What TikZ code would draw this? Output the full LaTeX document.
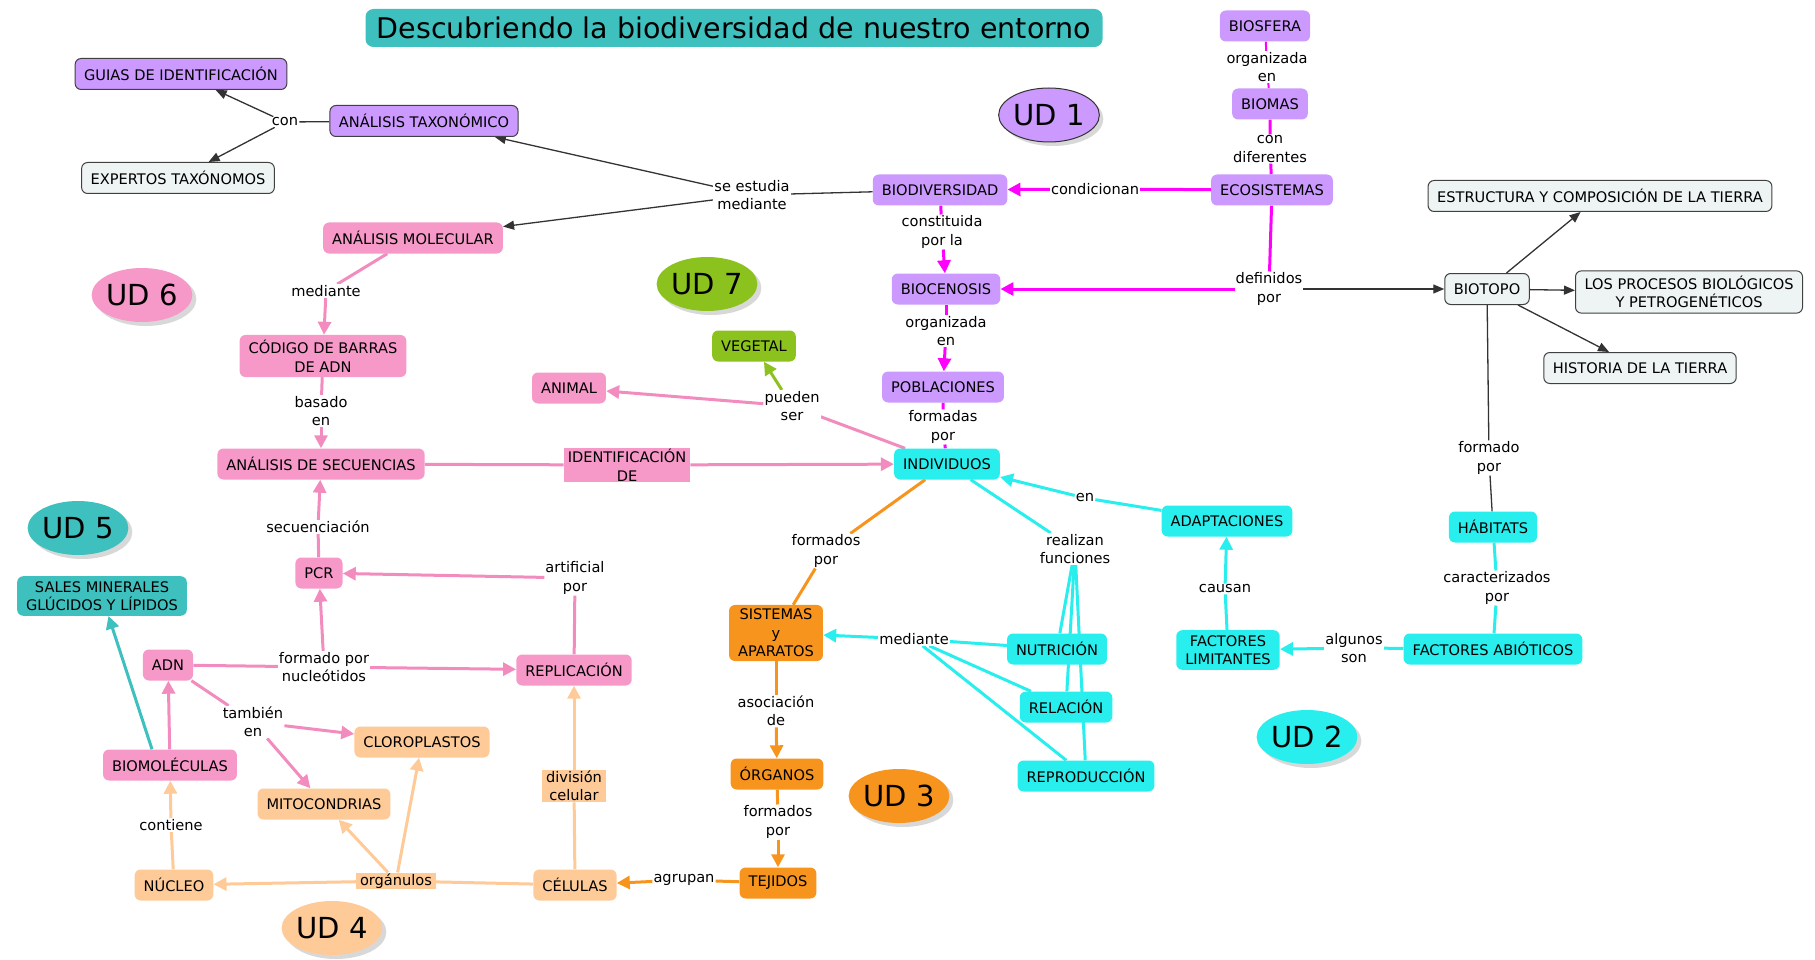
\documentclass[tikz,border=0pt]{standalone}
\usepackage{fontspec}
\setmainfont{DejaVu Sans}
\usetikzlibrary{arrows.meta,shapes.geometric,shadows,backgrounds}
\definecolor{lila}{RGB}{204,153,255}
\definecolor{rosa}{RGB}{246,152,200}
\definecolor{rosal}{RGB}{242,140,190}
\definecolor{cian}{RGB}{40,238,238}
\definecolor{naranja}{RGB}{247,148,30}
\definecolor{melo}{RGB}{253,202,152}
\definecolor{turq}{RGB}{62,192,190}
\definecolor{verde}{RGB}{140,194,30}
\definecolor{gris}{RGB}{238,243,243}
\definecolor{magen}{RGB}{255,0,255}
\newcommand{\ndfont}{\fontsize{14.6}{18.5}\selectfont}
\newcommand{\udfont}{\fontsize{29}{34}\selectfont}
\newcommand{\ttlfont}{\fontsize{28.5}{32}\selectfont}

\begin{document}
\begin{tikzpicture}[x=1pt,y=-1pt,
  every node/.style={text=black},
  cpt/.style={rounded corners=6pt,minimum height=31pt,inner xsep=9pt,inner ysep=5pt,align=center,font=\ndfont},
  brd/.style={draw=black!75,line width=1pt},
  lnk/.style={fill=white,inner sep=1pt,align=center,font=\ndfont},
  lnkf/.style={lnk,fill=#1,inner xsep=4pt},
  ud/.style={ellipse,minimum width=99pt,minimum height=54pt,inner sep=0pt,font=\udfont,
    drop shadow={shadow xshift=4pt,shadow yshift=-4pt,fill=black!30}},
  ln/.style={line width=1.3pt,draw=black!80},
  ar/.style={ln,-{Triangle[length=11pt,width=9pt]}},
  cl/.style={line width=3pt,draw=#1},
  ca/.style={cl=#1,-{Triangle[length=13pt,width=13pt]}}]
\useasboundingbox (0,0) rectangle (1815,960);
% title
\node[fill=turq,rounded corners=8pt,minimum width=737pt,minimum height=38pt,font=\ttlfont] (ttl) at (734,28) {Descubriendo la biodiversidad de nuestro entorno};
% units
\node[ud,fill=lila,draw=black!80,line width=1pt] (ud1) at (1049,115) {UD 1};
\node[ud,fill=cian] (ud2) at (1307,737) {UD 2};
\node[ud,fill=naranja] (ud3) at (899,796) {UD 3};
\node[ud,fill=melo] (ud4) at (332,928) {UD 4};
\node[ud,fill=turq] (ud5) at (78,528) {UD 5};
\node[ud,fill=rosa] (ud6) at (142,295) {UD 6};
\node[ud,fill=verde] (ud7) at (707,284) {UD 7};
% ecosystems
\node[cpt,fill=lila] (biosf) at (1265,26) {BIOSFERA};
\node[lnk] (lorg1) at (1267,67) {organizada\\en};
\node[cpt,fill=lila] (biomas) at (1270,104) {BIOMAS};
\node[lnk] (ldif) at (1270,149) {con\\diferentes};
\node[cpt,fill=lila] (ecosis) at (1272,190) {ECOSISTEMAS};
\node[lnk] (lcond) at (1095,189) {condicionan};
\node[cpt,fill=lila] (biodiv) at (940,190) {BIODIVERSIDAD};
\node[lnk] (lconst) at (942,232) {constituida\\por la};
\node[lnk] (ldef) at (1269,289) {definidos\\por};
\node[cpt,fill=lila] (bioce) at (946,289) {BIOCENOSIS};
\node[lnk] (lorg2) at (946,331) {organizada\\en};
\node[cpt,fill=lila] (pobla) at (943,387) {POBLACIONES};
\node[lnk] (lformd) at (943,427) {formadas\\por};
% taxonomy
\node[cpt,fill=lila,brd] (guias) at (181,74) {GUIAS DE IDENTIFICACIÓN};
\node[cpt,fill=lila,brd] (antax) at (424,121) {ANÁLISIS TAXONÓMICO};
\node[cpt,fill=gris,brd] (expert) at (178,178) {EXPERTOS TAXÓNOMOS};
\node[lnk] (lcon) at (285,122) {con};
\node[lnk] (lestud) at (752,195) {se estudia\\mediante};
\node[cpt,fill=rosa] (anmol) at (413,238) {ANÁLISIS MOLECULAR};
% biotope
\node[cpt,fill=gris,brd] (biotop) at (1487,289) {BIOTOPO};
\node[cpt,fill=gris,brd] (estruc) at (1600,196) {ESTRUCTURA Y COMPOSICIÓN DE LA TIERRA};
\node[cpt,fill=gris,brd] (proces) at (1689,292) {LOS PROCESOS BIOLÓGICOS\\Y PETROGENÉTICOS};
\node[cpt,fill=gris,brd] (histor) at (1640,368) {HISTORIA DE LA TIERRA};
\node[lnk] (lformb) at (1489,458) {formado\\por};
\node[cpt,fill=cian] (habit) at (1493,527) {HÁBITATS};
\node[lnk] (lcarac) at (1497,588) {caracterizados\\por};
\node[cpt,fill=cian] (fabio) at (1493,649) {FACTORES ABIÓTICOS};
\node[lnk] (lalg) at (1354,648) {algunos\\son};
\node[cpt,fill=cian] (flim) at (1228,650) {FACTORES\\LIMITANTES};
\node[lnk] (lcaus) at (1225,589) {causan};
\node[cpt,fill=cian] (adapt) at (1227,521) {ADAPTACIONES};
\node[lnk] (len) at (1085,498) {en};
% individuals
\node[cpt,fill=cian] (indiv) at (947,464) {INDIVIDUOS};
\node[lnk] (lreal) at (1075,549) {realizan\\funciones};
\node[cpt,fill=cian] (nutri) at (1057,649) {NUTRICIÓN};
\node[cpt,fill=cian] (relac) at (1066,707) {RELACIÓN};
\node[cpt,fill=cian] (repro) at (1086,776) {REPRODUCCIÓN};
\node[lnk] (lmed2) at (914,639) {mediante};
\node[lnk] (lformo) at (826,551) {formados\\por};
\node[cpt,fill=naranja,inner ysep=4pt] (sist) at (776,633) {SISTEMAS\\y\\APARATOS};
\node[lnk] (lasoc) at (776,711) {asociación\\de};
\node[cpt,fill=naranja] (organ) at (777,774) {ÓRGANOS};
\node[lnk] (lformt) at (778,822) {formados\\por};
\node[cpt,fill=naranja] (tejid) at (778,883) {TEJIDOS};
\node[lnk] (lagr) at (684,880) {agrupan};
% cells
\node[cpt,fill=melo] (celul) at (575,885) {CÉLULAS};
\node[lnkf=melo] (lorgan) at (396,881) {orgánulos};
\node[cpt,fill=melo] (nucleo) at (174,885) {NÚCLEO};
\node[cpt,fill=melo] (mitoc) at (324,804) {MITOCONDRIAS};
\node[cpt,fill=melo] (clorop) at (422,742) {CLOROPLASTOS};
\node[lnkf=melo] (ldiv) at (574,786) {división\\celular};
\node[lnk] (lcont) at (171,825) {contiene};
\node[cpt,fill=rosa] (biomol) at (170,765) {BIOMOLÉCULAS};
\node[cpt,fill=turq] (sales) at (102,596) {SALES MINERALES\\GLÚCIDOS Y LÍPIDOS};
% DNA
\node[cpt,fill=rosa] (adn) at (168,665) {ADN};
\node[lnk] (ltamb) at (253,722) {también\\en};
\node[lnk] (lnucl) at (324,667) {formado por\\nucleótidos};
\node[cpt,fill=rosa] (replic) at (574,670) {REPLICACIÓN};
\node[lnk] (lartf) at (575,578) {artificial\\por};
\node[cpt,fill=rosa] (pcr) at (319,573) {PCR};
\node[lnk] (lsec) at (318,527) {secuenciación};
\node[cpt,fill=rosa] (anseq) at (321,464) {ANÁLISIS DE SECUENCIAS};
\node[lnk] (lbas) at (321,411) {basado\\en};
\node[cpt,fill=rosa] (codig) at (323,356) {CÓDIGO DE BARRAS\\DE ADN};
\node[lnk] (lmed1) at (326,291) {mediante};
\node[lnkf=rosa] (lident) at (627,465) {IDENTIFICACIÓN\\DE};
\node[lnk] (lpued) at (792,406) {pueden\\ser};
\node[cpt,fill=rosa] (animal) at (569,388) {ANIMAL};
\node[cpt,fill=verde] (veget) at (754,346) {VEGETAL};
\begin{scope}[on background layer]
% black links
\draw[ln] (antax) -- (lcon);
\draw[ar] (lcon) -- (guias);
\draw[ar] (lcon) -- (expert);
\draw[ln] (biodiv) -- (lestud);
\draw[ar] (lestud) -- (antax);
\draw[ar] (lestud) -- (anmol);
\draw[ar] (ldef) -- (biotop);
\foreach \b in {estruc,proces,histor} \draw[ar] (biotop) -- (\b);
\draw[ln] (biotop) -- (lformb) -- (habit);
% magenta links
\draw[cl=magen,line width=2pt] (biosf) -- (lorg1) -- (biomas);
\draw[cl=magen] (biomas) -- (ldif) -- (ecosis);
\draw[cl=magen] (ecosis) -- (lcond);
\draw[ca=magen] (lcond) -- (biodiv);
\draw[cl=magen] (ecosis) -- (ldef);
\draw[ca=magen] (ldef) -- (bioce);
\draw[cl=magen] (biodiv) -- (lconst);
\draw[ca=magen] (lconst) -- (bioce);
\draw[cl=magen] (bioce) -- (lorg2);
\draw[ca=magen] (lorg2) -- (pobla);
\draw[cl=magen] (pobla) -- (lformd) -- (indiv);
% cyan links
\draw[cl=cian] (habit) -- (lcarac) -- (fabio);
\draw[cl=cian] (fabio) -- (lalg);
\draw[ca=cian] (lalg) -- (flim);
\draw[cl=cian] (flim) -- (lcaus);
\draw[ca=cian] (lcaus) -- (adapt);
\draw[cl=cian] (adapt) -- (len);
\draw[ca=cian] (len) -- (indiv);
\draw[cl=cian] (indiv) -- (lreal);
\foreach \f in {nutri,relac,repro} {
  \draw[cl=cian] (lreal) -- (\f);
  \draw[cl=cian] (\f) -- (lmed2);
}
\draw[ca=cian] (lmed2) -- (sist);
% orange links
\draw[cl=naranja] (indiv) -- (lformo) -- (sist);
\draw[cl=naranja] (sist) -- (lasoc);
\draw[ca=naranja] (lasoc) -- (organ);
\draw[cl=naranja] (organ) -- (lformt);
\draw[ca=naranja] (lformt) -- (tejid);
\draw[cl=naranja] (tejid) -- (lagr);
\draw[ca=naranja] (lagr) -- (celul);
% peach links
\draw[cl=melo] (celul) -- (lorgan);
\foreach \t in {nucleo,mitoc,clorop} \draw[ca=melo] (lorgan) -- (\t);
\draw[cl=melo] (celul) -- (ldiv);
\draw[ca=melo] (ldiv) -- (replic);
\draw[cl=melo] (nucleo) -- (lcont);
\draw[ca=melo] (lcont) -- (biomol);
% pink links
\draw[cl=rosal] (anmol) -- (lmed1);
\draw[ca=rosal] (lmed1) -- (codig);
\draw[cl=rosal] (codig) -- (lbas);
\draw[ca=rosal] (lbas) -- (anseq);
\draw[cl=rosal] (pcr) -- (lsec);
\draw[ca=rosal] (lsec) -- (anseq);
\draw[cl=rosal] (replic) -- (lartf);
\draw[ca=rosal] (lartf) -- (pcr);
\draw[cl=rosal] (adn) -- (lnucl);
\draw[ca=rosal] (lnucl) -- (replic);
\draw[ca=rosal] (lnucl) -- (pcr);
\draw[cl=rosal] (anseq) -- (lident);
\draw[ca=rosal] (lident) -- (indiv);
\draw[cl=rosal] (indiv) -- (lpued);
\draw[ca=rosal] (lpued) -- (animal);
\draw[ca=verde] (lpued) -- (veget);
\draw[ca=rosal] (biomol) -- (adn);
\draw[ca=turq] ([xshift=-18pt]biomol.north) -- (sales);
\draw[cl=rosal] (adn) -- (ltamb);
\draw[ca=rosal] (ltamb) -- (clorop);
\draw[ca=rosal] (ltamb) -- (mitoc);
\end{scope}
\end{tikzpicture}
\end{document}
